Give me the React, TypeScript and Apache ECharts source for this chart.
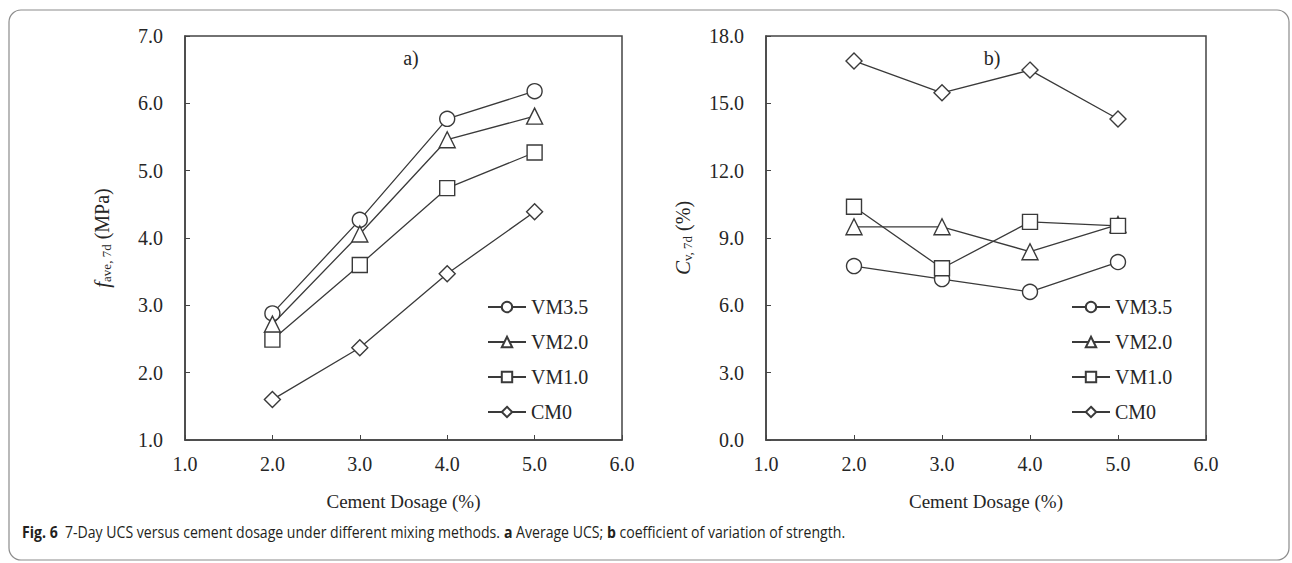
import React, { useEffect, useRef } from "react";
import * as echarts from "echarts";

const dosage = [2.0, 3.0, 4.0, 5.0];
const seriesNames = ["VM3.5", "VM2.0", "VM1.0", "CM0"];
const seriesSymbols = ["circle", "triangle", "rect", "diamond"];
const seriesSizes = [15, 16, 15, 16];

// (a) average UCS, MPa
const avgVM35 = [2.88, 4.27, 5.77, 6.18];
const avgVM20 = [2.72, 4.06, 5.46, 5.81];
const avgVM10 = [2.49, 3.6, 4.74, 5.27];
const avgCM0 = [1.6, 2.37, 3.47, 4.39];

// (b) coefficient of variation, %
const cvVM35 = [7.75, 7.17, 6.6, 7.93];
const cvVM20 = [9.5, 9.5, 8.39, 9.6];
const cvVM10 = [10.39, 7.65, 9.72, 9.54];
const cvCM0 = [16.89, 15.47, 16.48, 14.3];

const xTitle = "Cement Dosage (%)";
const caption =
  "{b|Fig. 6}  7-Day UCS versus cement dosage under different mixing methods. {b|a} Average UCS; {b|b} coefficient of variation of strength.";

const SERIF = "'Liberation Serif', 'Times New Roman', serif";
const SANS = "'Open Sans', 'Noto Sans', sans-serif";
const INK = "#262626";

function makeSeries(values: number[][], gridIdx: number) {
  return values.map((arr, k) => ({
    name: seriesNames[k],
    type: "line",
    xAxisIndex: gridIdx,
    yAxisIndex: gridIdx,
    data: dosage.map((x, i) => [x, arr[i]]),
    symbol: seriesSymbols[k],
    symbolSize: seriesSizes[k],
    showAllSymbol: true,
    lineStyle: { color: "#3a3a3a", width: 1.3 },
    itemStyle: { color: "#ffffff", borderColor: "#3a3a3a", borderWidth: 1.4 },
    emphasis: { disabled: true },
    z: 3,
  }));
}

function xAxis(gridIndex: number) {
  return {
    type: "value",
    gridIndex,
    min: 1,
    max: 6,
    interval: 1,
    name: xTitle,
    nameLocation: "middle",
    nameGap: 52,
    nameTextStyle: { fontFamily: SERIF, fontSize: 19, color: INK },
    axisLine: { show: true, lineStyle: { color: "#444", width: 1.5 } },
    axisTick: { show: true, inside: true, length: 5, lineStyle: { color: "#444" } },
    axisLabel: {
      margin: 14,
      fontFamily: SERIF,
      fontSize: 20,
      color: INK,
      formatter: (v: number) => v.toFixed(1),
    },
    splitLine: { show: false },
  };
}

function yAxis(gridIndex: number, min: number, max: number, interval: number, name: string, rich: any) {
  return {
    type: "value",
    gridIndex,
    min,
    max,
    interval,
    name,
    nameLocation: "middle",
    nameRotate: 90,
    nameGap: 72,
    nameTextStyle: { fontFamily: SERIF, fontSize: 20, color: INK, rich },
    axisLine: { show: true, lineStyle: { color: "#444", width: 1.5 } },
    axisTick: { show: true, inside: true, length: 5, lineStyle: { color: "#444" } },
    axisLabel: {
      margin: 22,
      fontFamily: SERIF,
      fontSize: 20,
      color: INK,
      formatter: (v: number) => v.toFixed(1),
    },
    splitLine: { show: false },
  };
}

const nameRich = {
  it: { fontFamily: SERIF, fontSize: 21, fontStyle: "italic", color: INK },
  sub: { fontFamily: SERIF, fontSize: 13, color: INK, padding: [9, 0, 0, 0] },
  n: { fontFamily: SERIF, fontSize: 20, color: INK },
};

function legend(left: number) {
  return {
    orient: "vertical",
    left,
    top: 292,
    itemWidth: 38,
    itemHeight: 13,
    itemGap: 15,
    selectedMode: false,
    data: seriesNames,
    textStyle: { fontFamily: SERIF, fontSize: 20, color: INK },
  };
}

export default function App() {
  const ref = useRef<HTMLDivElement>(null);
  useEffect(() => {
    document.body.style.margin = "0";
    const chart = echarts.init(ref.current!, null, { renderer: "svg" });
    chart.setOption({
      animation: false,
      backgroundColor: "#ffffff",
      grid: [
        { left: 185, top: 36, width: 437, height: 404, show: true, borderColor: "#444", borderWidth: 1.5, containLabel: false },
        { left: 766, top: 36, width: 440, height: 404, show: true, borderColor: "#444", borderWidth: 1.5, containLabel: false },
      ],
      xAxis: [xAxis(0), xAxis(1)],
      yAxis: [
        yAxis(0, 1, 7, 1, "{it|f}{sub|ave, 7d}{n| (MPa)}", nameRich),
        yAxis(1, 0, 18, 3, "{it|C}{sub|v, 7d}{n| (%)}", nameRich),
      ],
      legend: [legend(482), legend(1066)],
      series: [
        ...makeSeries([avgVM35, avgVM20, avgVM10, avgCM0], 0),
        ...makeSeries([cvVM35, cvVM20, cvVM10, cvCM0], 1),
      ],
      graphic: [
        {
          type: "rect",
          shape: { x: 9, y: 10, width: 1280, height: 550, r: 12 },
          style: { fill: "none", stroke: "#8c8c8c", lineWidth: 1.2 },
          silent: true,
        },
        {
          type: "text",
          x: 411,
          y: 58,
          style: { text: "a)", fontFamily: SERIF, fontSize: 20, fill: INK, align: "center", verticalAlign: "middle" },
        },
        {
          type: "text",
          x: 992,
          y: 58,
          style: { text: "b)", fontFamily: SERIF, fontSize: 20, fill: INK, align: "center", verticalAlign: "middle" },
        },
        {
          type: "text",
          x: 22,
          y: 532,
          scaleX: 0.88,
          style: {
            text: caption,
            fontFamily: SANS,
            fontSize: 16,
            fill: "#231f20",
            verticalAlign: "middle",
            rich: {
              b: { fontFamily: SANS, fontSize: 16, fontWeight: "bold", fill: "#231f20" },
            },
          },
        },
      ],
    });
    return () => chart.dispose();
  }, []);
  return <div ref={ref} style={{ width: 1292, height: 563 }} />;
}
